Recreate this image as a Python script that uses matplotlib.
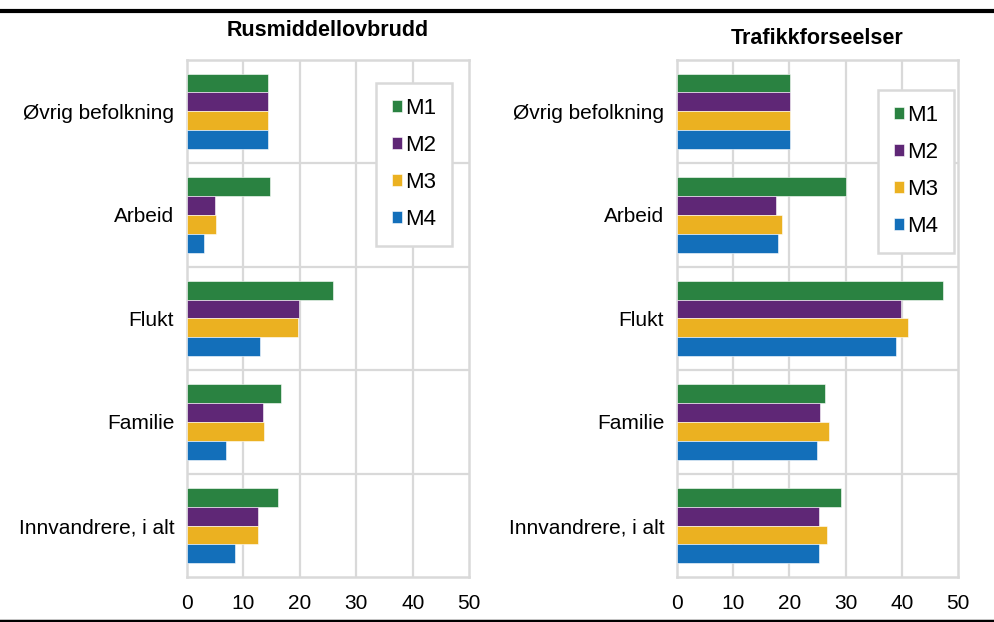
import matplotlib
matplotlib.use("Agg")
import matplotlib.pyplot as plt
from matplotlib.lines import Line2D
import numpy as np

plt.rcParams['font.family'] = ['Liberation Sans', 'DejaVu Sans']

categories = ["Øvrig befolkning", "Arbeid", "Flukt", "Familie", "Innvandrere, i alt"]
series = ["M1", "M2", "M3", "M4"]
colors = ["#2a8241", "#5f2776", "#ebb121", "#136fba"]

rus_M1 = [14.4, 14.7, 25.9, 16.7, 16.2]
rus_M2 = [14.4, 5.1, 19.8, 13.5, 12.6]
rus_M3 = [14.4, 5.2, 19.7, 13.7, 12.6]
rus_M4 = [14.4, 3.1, 13.0, 7.0, 8.5]

traf_M1 = [20.2, 30.0, 47.2, 26.3, 29.1]
traf_M2 = [20.2, 17.6, 39.8, 25.5, 25.2]
traf_M3 = [20.2, 18.7, 41.1, 27.0, 26.7]
traf_M4 = [20.2, 18.0, 39.0, 24.9, 25.3]

xticks = [0, 10, 20, 30, 40, 50]

fig = plt.figure(figsize=(9.94, 6.22), dpi=100)
grid_c = "#d9d9d9"
FS = 15

def panel(rect, data, title, title_y, legend_anchor, labelspacing):
    ax = fig.add_axes(rect)
    y = np.arange(len(categories))
    h = 0.182
    for k, (vals, c, lab) in enumerate(zip(data, colors, series)):
        ax.barh(y + (k - 1.5) * h, vals, height=h, color=c, label=lab,
                edgecolor="white", linewidth=0.4, zorder=3)
    ax.set_ylim(len(categories) - 0.5, -0.5)
    ax.set_xlim(0, 50)
    ax.set_xticks(xticks)
    ax.set_xticklabels([str(t) for t in xticks], fontsize=FS)
    ax.set_yticks(y)
    ax.set_yticklabels(categories, fontsize=FS)
    ax.tick_params(length=0, pad=9)
    ax.tick_params(axis='x', pad=12)
    for xv in xticks[1:-1]:
        ax.axvline(xv, color=grid_c, lw=1.6, zorder=1)
    for yv in np.arange(0.5, len(categories) - 0.5, 1):
        ax.axhline(yv, color=grid_c, lw=1.6, zorder=1)
    for s in ax.spines.values():
        s.set_color(grid_c)
        s.set_linewidth(1.8)
    fig.text(rect[0] + rect[2] / 2, title_y, title, ha='center', va='center',
             fontsize=15.5, fontweight='bold')
    leg = ax.legend(loc='upper left', bbox_to_anchor=legend_anchor, fontsize=16,
                    handlelength=0.45, handleheight=0.45, handletextpad=0.15,
                    labelspacing=labelspacing, borderpad=0.7, fancybox=False,
                    framealpha=1, edgecolor=grid_c, borderaxespad=0)
    leg.get_frame().set_linewidth(1.8)
    return ax

panel([0.1878, 0.0719, 0.2843, 0.8324], [rus_M1, rus_M2, rus_M3, rus_M4],
      "Rusmiddellovbrudd", 1 - 30 / 622, (0.67, 0.955), 0.72)
panel([0.6808, 0.0719, 0.2833, 0.8324], [traf_M1, traf_M2, traf_M3, traf_M4],
      "Trafikkforseelser", 1 - 38 / 622, (0.715, 0.942), 0.72)

fig.add_artist(Line2D([0, 1], [1 - 10.5 / 622, 1 - 10.5 / 622], color="black", lw=3,
                      transform=fig.transFigure))
fig.add_artist(Line2D([0, 1], [1.5 / 622, 1.5 / 622], color="black", lw=2.5,
                      transform=fig.transFigure))

fig.savefig("out.png", dpi=100)
